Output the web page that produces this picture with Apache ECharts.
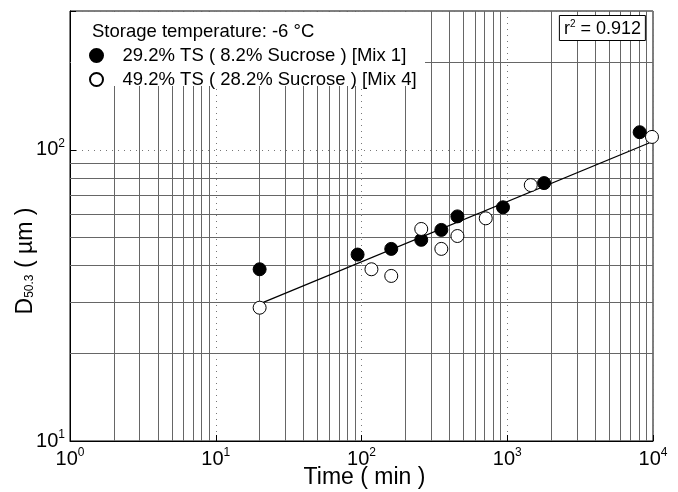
<!DOCTYPE html>
<html><head><meta charset="utf-8">
<script src="https://cdn.jsdelivr.net/npm/echarts@6/dist/echarts.min.js"></script>
<style>html,body{margin:0;padding:0;background:#fff}#c{width:678px;height:492px}</style>
</head><body><div id="c"></div>
<script>
const mix1Time = [20, 94, 160, 257, 353, 455, 935, 1790, 8100];
const mix1D    = [38.9, 43.7, 45.7, 49.1, 53.1, 59.1, 63.5, 76.9, 115];
const mix4Time = [20, 117, 160, 257, 353, 455, 712, 1450, 9840];
const mix4D    = [28.7, 38.9, 36.9, 53.5, 45.7, 50.6, 58.2, 75.7, 110.8];
const fitTime  = [20, 9400];
const fitD     = [29.6, 105.6];
const minorX   = [2,3,4,5,6,7,8,9,20,30,40,50,60,70,80,90,200,300,400,500,600,700,800,900,2000,3000,4000,5000,6000,7000,8000,9000];
const minorY   = [20,30,40,50,60,70,80,90,200];
const mix1Name = '29.2% TS ( 8.2% Sucrose ) [Mix 1]';
const mix4Name = '49.2% TS ( 28.2% Sucrose ) [Mix 4]';
const FONT = 'Liberation Sans, Arial, sans-serif';

const zip = (a, b) => a.map((v, i) => [v, b[i]]);
const pow10 = v => {
  const e = Math.log10(v);
  if (Math.abs(e - Math.round(e)) > 1e-6) return '';
  return '{b|10}{s|' + Math.round(e) + '}';
};
const labelRich = {
  b: {fontSize: 20, fontFamily: FONT, color: '#000'},
  s: {fontSize: 12, fontFamily: FONT, color: '#000', padding: [0, 0, 13, 0]}
};
const gridLineStyle = {color: '#666', width: 1, type: 'solid'};

const chart = echarts.init(document.getElementById('c'));
chart.setOption({
  animation: false,
  backgroundColor: '#fff',
  grid: {left: 70, right: 25, top: 11, bottom: 51, containLabel: false, outerBoundsMode: 'none',
         show: true, borderColor: '#000', borderWidth: 1, backgroundColor: 'transparent'},
  title: [
    {text: 'Storage temperature: -6 °C', left: 92, top: 22, padding: 0, z: 60,
     textStyle: {fontSize: 18.5, fontWeight: 'normal', fontFamily: FONT, color: '#000'}},
    {text: '{r|r}{s|2}{r| = 0.912}', right: 32, top: 15, padding: [4, 5, 3, 5], z: 60,
     borderColor: '#000', borderWidth: 1, backgroundColor: '#fff',
     textStyle: {fontWeight: 'normal', rich: {
       r: {fontSize: 18, fontWeight: 'normal', fontFamily: FONT, color: '#000'},
       s: {fontSize: 10, fontWeight: 'normal', fontFamily: FONT, color: '#000', padding: [0, 0, 10, 0]}
     }}}
  ],
  graphic: [
    {type: 'rect', shape: {x: 71, y: 12, width: 354, height: 74}, style: {fill: '#fff'}, z: 50, silent: true}
  ],
  legend: {
    orient: 'vertical', left: 89, top: 46, padding: 0, itemGap: 5, z: 60,
    itemWidth: 42, itemHeight: 13,
    data: [mix1Name, mix4Name],
    textStyle: {fontSize: 18.5, fontFamily: FONT, color: '#000'}
  },
  xAxis: {
    type: 'log', logBase: 10, min: 1, max: 10000,
    name: 'Time ( min )', nameLocation: 'middle', nameGap: 25, nameMoveOverlap: false,
    nameTextStyle: {fontSize: 23, fontFamily: FONT, color: '#000', padding: [0, 0, 0, 6]},
    axisLine: {show: true, onZero: false, lineStyle: {color: '#000', width: 1}},
    axisTick: {show: true, inside: true, length: 6, lineStyle: {color: '#000'}},
    axisLabel: {formatter: pow10, rich: labelRich, margin: 6},
    splitLine: {show: true, lineStyle: {color: '#777', type: [1, 5], width: 1}}
  },
  yAxis: {
    type: 'log', logBase: 10, min: 10, max: 300,
    name: '{m|D}{sub|50.3}{m| ( µm )}', nameLocation: 'middle', nameGap: 33, nameRotate: 90, nameMoveOverlap: false,
    nameTextStyle: {padding: [0, 70, 0, 0], rich: {
      m: {fontSize: 23, fontFamily: FONT, color: '#000'},
      sub: {fontSize: 12, fontFamily: FONT, color: '#000', padding: [9, 0, 0, 0]}
    }},
    axisLine: {show: true, onZero: false, lineStyle: {color: '#000', width: 1}},
    axisTick: {show: true, inside: true, length: 6, lineStyle: {color: '#000'}},
    axisLabel: {formatter: pow10, rich: labelRich, margin: 5},
    splitLine: {show: true, lineStyle: {color: '#777', type: [1, 5], width: 1}}
  },
  series: [
    {type: 'line', name: 'gridlines', data: [], silent: true, z: 1,
     markLine: {silent: true, z: 1, symbol: ['none', 'none'], label: {show: false}, animation: false,
       lineStyle: gridLineStyle, emphasis: {disabled: true},
       data: minorX.map(v => ({xAxis: v})).concat(minorY.map(v => ({yAxis: v})))}},
    {type: 'line', name: 'fit', data: zip(fitTime, fitD), symbol: 'none', z: 3,
     lineStyle: {color: '#000', width: 1.3}},
    {type: 'scatter', name: mix1Name, data: zip(mix1Time, mix1D), symbol: 'circle', symbolSize: 13, z: 4,
     itemStyle: {color: '#000', borderColor: '#000', borderWidth: 1, opacity: 1}},
    {type: 'scatter', name: mix4Name, data: zip(mix4Time, mix4D), symbol: 'circle', symbolSize: 13, z: 5,
     itemStyle: {color: '#fff', borderColor: '#000', borderWidth: 1, opacity: 1}}
  ]
});
</script>
</body></html>
